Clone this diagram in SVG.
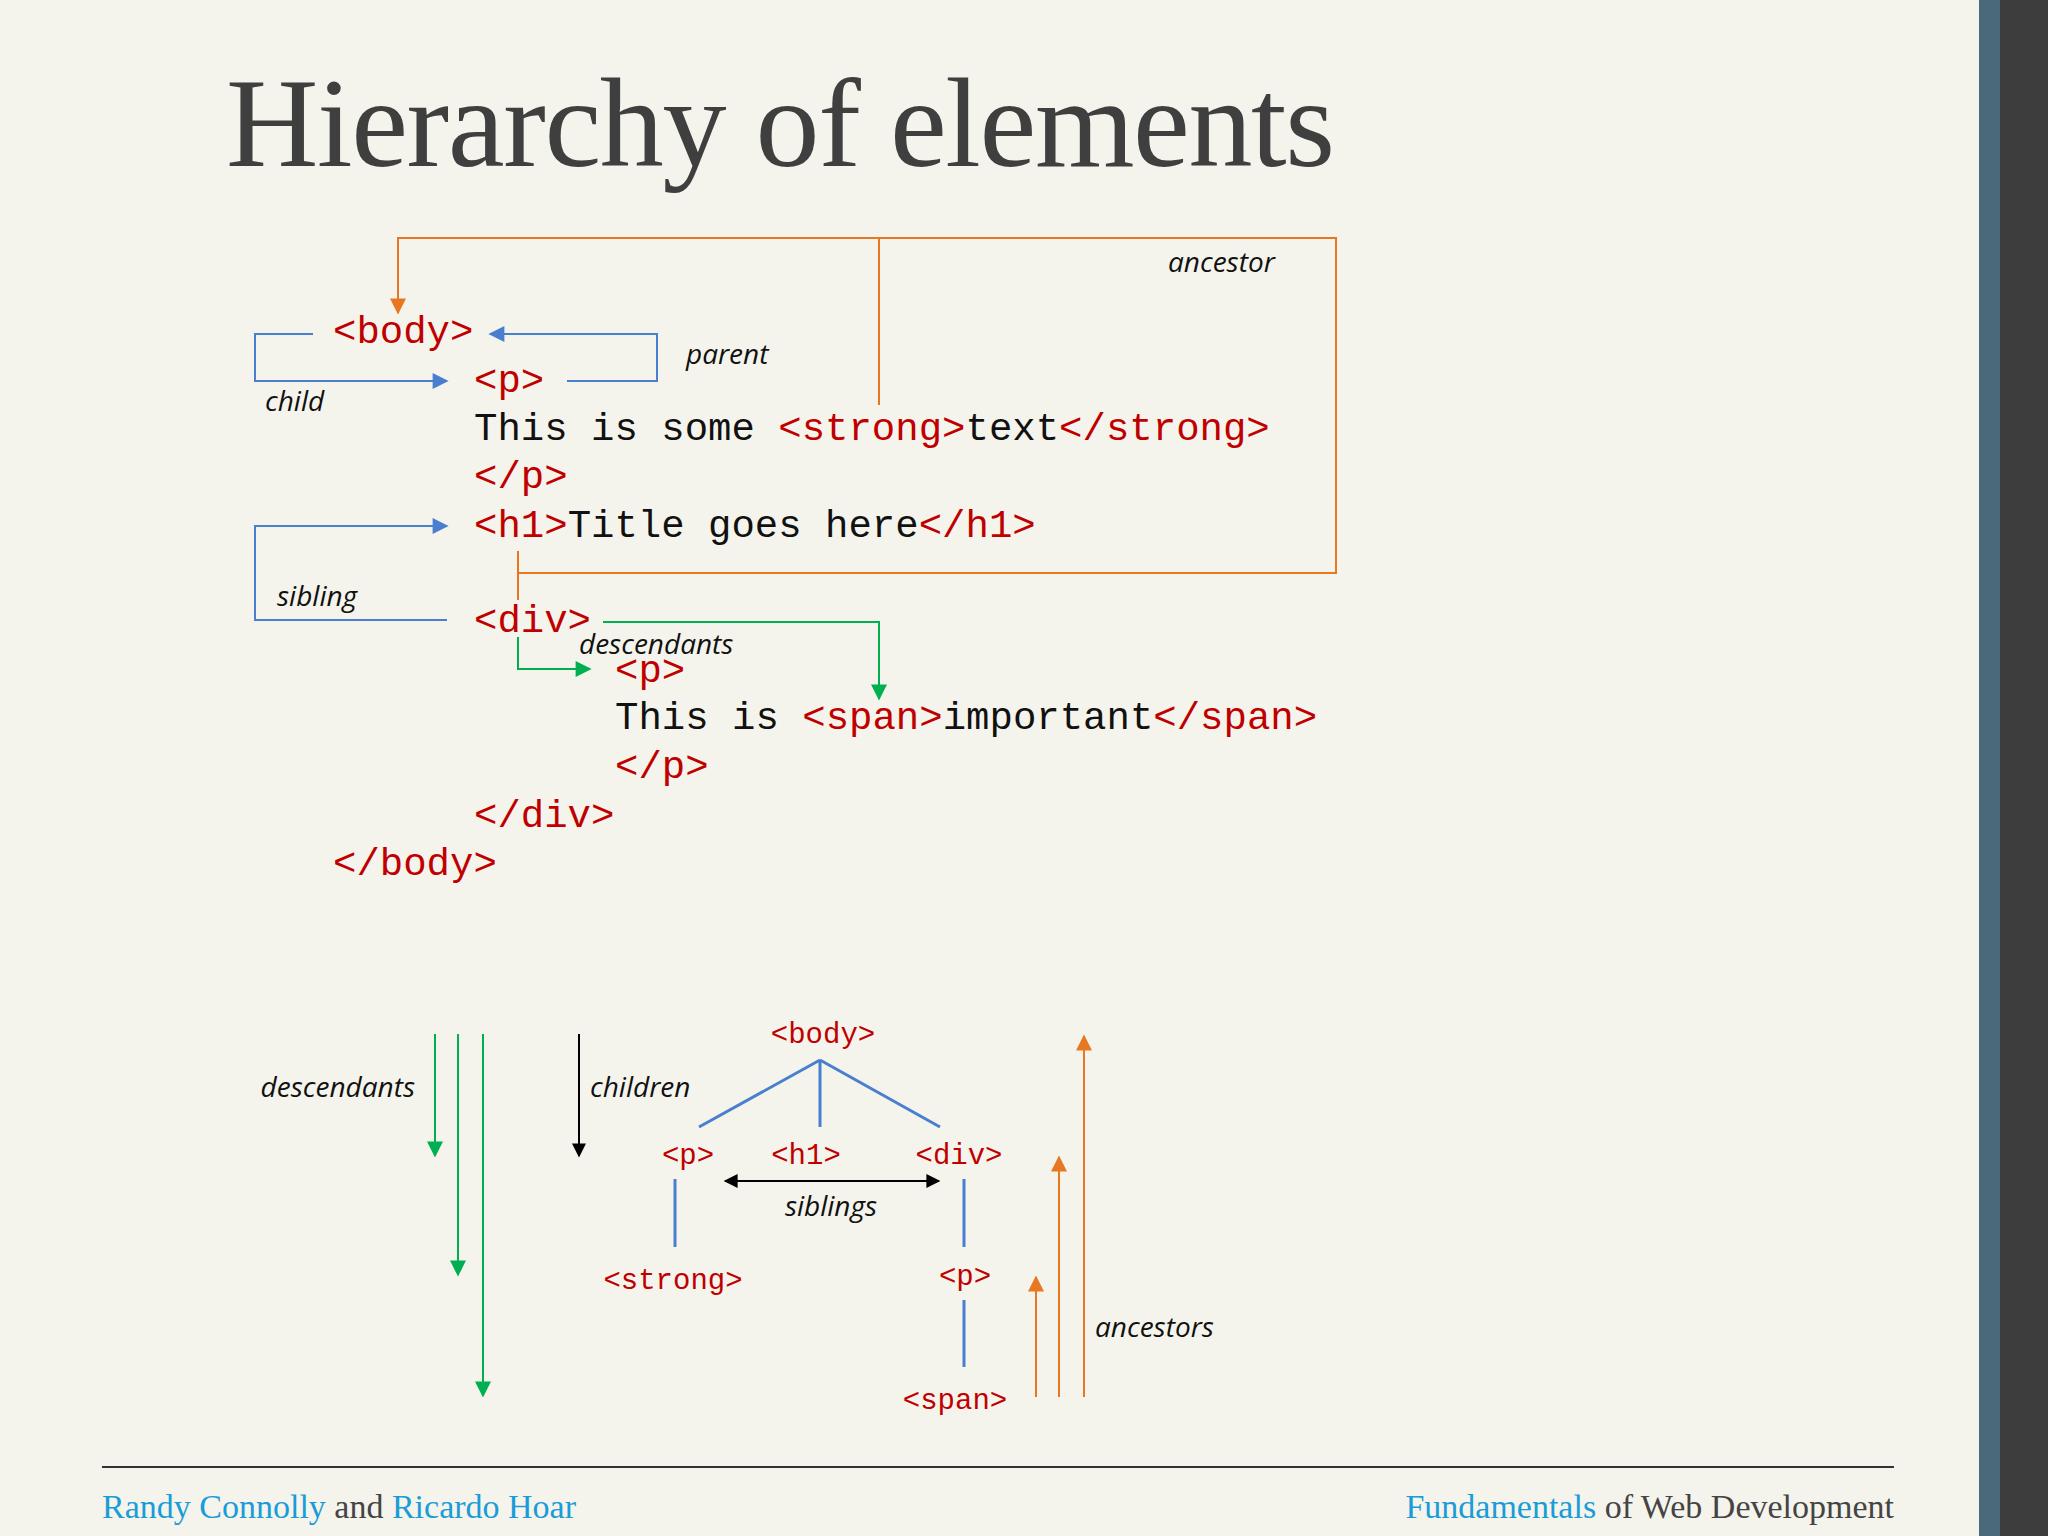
<svg xmlns="http://www.w3.org/2000/svg" width="2048" height="1536" viewBox="0 0 2048 1536">
<style>
.code{font-family:"Liberation Mono","DejaVu Sans Mono",monospace;font-size:39px;fill:#111}
.r{fill:#c00000}
.lab{font-family:"Open Sans","Liberation Sans",sans-serif;font-style:italic;font-size:28px;fill:#111}
.tree{font-family:"Liberation Mono","DejaVu Sans Mono",monospace;font-size:29px;fill:#c00000;text-anchor:middle}
.foot{font-family:"Liberation Serif",serif;font-size:34px;fill:#444}
.b{fill:#1a9cd8}
</style>
<defs>
<marker id="ao" viewBox="0 0 10 10" refX="9" refY="5" markerUnits="userSpaceOnUse" markerWidth="24" markerHeight="16" orient="auto"><path d="M0,0L10,5L0,10z" fill="#e87722"/></marker>
<marker id="ab" viewBox="0 0 10 10" refX="9" refY="5" markerUnits="userSpaceOnUse" markerWidth="28" markerHeight="16" orient="auto"><path d="M0,0L10,5L0,10z" fill="#4a7fcf"/></marker>
<marker id="ag" viewBox="0 0 10 10" refX="9" refY="5" markerUnits="userSpaceOnUse" markerWidth="24" markerHeight="16" orient="auto"><path d="M0,0L10,5L0,10z" fill="#00b050"/></marker>
<marker id="ak" viewBox="0 0 10 10" refX="9" refY="5" markerUnits="userSpaceOnUse" markerWidth="20" markerHeight="14" orient="auto-start-reverse"><path d="M0,0L10,5L0,10z" fill="#000"/></marker>
</defs>
<rect width="2048" height="1536" fill="#f4f4ec"/>
<rect x="1979" y="0" width="21" height="1536" fill="#4a6a7a"/>
<rect x="2000" y="0" width="48" height="1536" fill="#3d3d3d"/>
<text x="226" y="166" font-family="Liberation Serif,serif" font-size="128" fill="#3f3f3f" textLength="1109">Hierarchy of elements</text>
<g id="code">
<text class="code r" x="333" y="343">&lt;body&gt;</text>
<text class="code r" x="474" y="392">&lt;p&gt;</text>
<text class="code" x="474" y="440">This is some <tspan class="r">&lt;strong&gt;</tspan>text<tspan class="r">&lt;/strong&gt;</tspan></text>
<text class="code r" x="474" y="488">&lt;/p&gt;</text>
<text class="code" x="474" y="537"><tspan class="r">&lt;h1&gt;</tspan>Title goes here<tspan class="r">&lt;/h1&gt;</tspan></text>
<text class="code r" x="474" y="632">&lt;div&gt;</text>
<text class="code r" x="615" y="682">&lt;p&gt;</text>
<text class="code" x="615" y="729">This is <tspan class="r">&lt;span&gt;</tspan>important<tspan class="r">&lt;/span&gt;</tspan></text>
<text class="code r" x="615" y="778">&lt;/p&gt;</text>
<text class="code r" x="474" y="827">&lt;/div&gt;</text>
<text class="code r" x="333" y="875">&lt;/body&gt;</text>
</g>
<g id="connectors" fill="none" stroke-width="2">
<path d="M879,405V238H398V313" stroke="#e87722" marker-end="url(#ao)"/>
<path d="M879,238H1336V573H518M518,551V600" stroke="#e87722"/>
<path d="M518,637V669H590" stroke="#00b050" marker-end="url(#ag)"/>
<path d="M603,622H879V699" stroke="#00b050" marker-end="url(#ag)"/>
<path d="M567,381H657V334H490" stroke="#4a7fcf" marker-end="url(#ab)"/>
<path d="M313,334H255V381H447" stroke="#4a7fcf" marker-end="url(#ab)"/>
<path d="M447,620H255V526H447" stroke="#4a7fcf" marker-end="url(#ab)"/>
<path d="M820,1060L699,1127M820,1060V1127M820,1060L940,1127M675,1179V1247M964,1179V1247M964,1300V1367" stroke="#4a7fcf" stroke-width="3"/>
<path d="M725,1181H939" stroke="#000" marker-start="url(#ak)" marker-end="url(#ak)"/>
<path d="M435,1034V1156" stroke="#00b050" marker-end="url(#ag)"/>
<path d="M458,1034V1275" stroke="#00b050" marker-end="url(#ag)"/>
<path d="M483,1034V1396" stroke="#00b050" marker-end="url(#ag)"/>
<path d="M579,1034V1156" stroke="#000" marker-end="url(#ak)"/>
<path d="M1036,1397V1277" stroke="#e87722" marker-end="url(#ao)"/>
<path d="M1059,1397V1157" stroke="#e87722" marker-end="url(#ao)"/>
<path d="M1084,1397V1036" stroke="#e87722" marker-end="url(#ao)"/>
</g>
<g id="labels">
<text class="lab" x="1168" y="272">ancestor</text>
<text class="lab" x="686" y="364">parent</text>
<text class="lab" x="265" y="411">child</text>
<text class="lab" x="277" y="606">sibling</text>
<text class="lab" x="579" y="654">descendants</text>
<text class="lab" x="415" y="1097" text-anchor="end">descendants</text>
<text class="lab" x="590" y="1097">children</text>
<text class="lab" x="831" y="1216" text-anchor="middle">siblings</text>
<text class="lab" x="1095" y="1337">ancestors</text>
</g>
<g id="tree">
<text class="tree" x="823" y="1043">&lt;body&gt;</text>
<text class="tree" x="688" y="1164">&lt;p&gt;</text>
<text class="tree" x="806" y="1164">&lt;h1&gt;</text>
<text class="tree" x="959" y="1164">&lt;div&gt;</text>
<text class="tree" x="673" y="1289">&lt;strong&gt;</text>
<text class="tree" x="965" y="1285">&lt;p&gt;</text>
<text class="tree" x="955" y="1409">&lt;span&gt;</text>
</g>
<line x1="102" y1="1467" x2="1894" y2="1467" stroke="#333" stroke-width="2"/>
<text class="foot" x="102" y="1518"><tspan class="b">Randy Connolly</tspan> and <tspan class="b">Ricardo Hoar</tspan></text>
<text class="foot" x="1894" y="1518" text-anchor="end"><tspan class="b">Fundamentals</tspan> of Web Development</text>
</svg>
